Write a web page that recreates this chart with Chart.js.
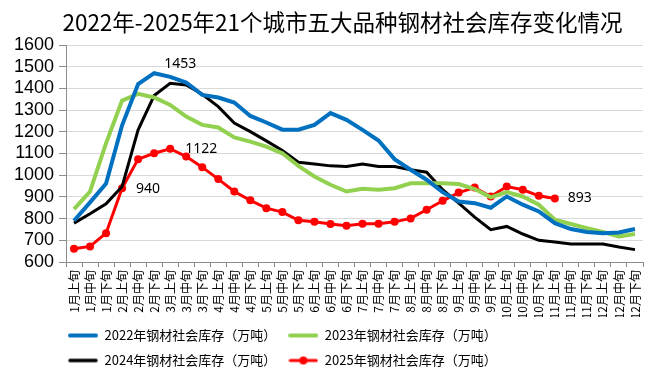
<!DOCTYPE html>
<html>
<head>
<meta charset="utf-8">
<script src="https://cdn.jsdelivr.net/npm/chart.js@4.4.1/dist/chart.umd.min.js"></script>
<style>
  html, body { margin: 0; padding: 0; background: #fff; }
  #wrap { width: 665px; height: 385px; }
</style>
</head>
<body>
<div id="wrap"><canvas id="myChart"></canvas></div>
<script>
'use strict';

// 旬度标签
const periods = [
  '1月上旬', '1月中旬', '1月下旬', '2月上旬', '2月中旬', '2月下旬',
  '3月上旬', '3月中旬', '3月下旬', '4月上旬', '4月中旬', '4月下旬',
  '5月上旬', '5月中旬', '5月下旬', '6月上旬', '6月中旬', '6月下旬',
  '7月上旬', '7月中旬', '7月下旬', '8月上旬', '8月中旬', '8月下旬',
  '9月上旬', '9月中旬', '9月下旬', '10月上旬', '10月中旬', '10月下旬',
  '11月上旬', '11月中旬', '11月下旬', '12月上旬', '12月中旬', '12月下旬'
];

// 万吨
const stock2022 = [790, 875, 962, 1230, 1420, 1470, 1453, 1427, 1370, 1358, 1335, 1273,
  1243, 1210, 1210, 1232, 1286, 1255, 1209, 1160, 1074, 1025, 979, 922,
  879, 871, 850, 902, 864, 833, 779, 752, 738, 733, 736, 752];
const stock2023 = [844, 925, 1148, 1344, 1375, 1358, 1324, 1270, 1232, 1220, 1174, 1155,
  1132, 1101, 1043, 994, 956, 925, 937, 933, 940, 963, 963, 963,
  959, 936, 898, 922, 902, 864, 795, 775, 756, 738, 718, 729];
const stock2024 = [779, 822, 868, 948, 1209, 1367, 1424, 1416, 1373, 1316, 1240, 1201,
  1158, 1114, 1060, 1052, 1043, 1040, 1051, 1040, 1040, 1025, 1014, 933,
  871, 807, 749, 764, 729, 700, 692, 683, 683, 683, 669, 657];
const stock2025 = [661, 672, 733, 940, 1074, 1101, 1122, 1086, 1037, 982, 925, 884,
  848, 830, 792, 785, 775, 767, 776, 776, 785, 801, 841, 882,
  920, 943, 902, 948, 933, 905, 893];

const seriesNames = ['2022年钢材社会库存（万吨）', '2023年钢材社会库存（万吨）',
  '2024年钢材社会库存（万吨）', '2025年钢材社会库存（万吨）'];
const yMin = 600, yMax = 1600, yStep = 100;

const ctx = document.getElementById('myChart');

// legend sample: short thick line, red one gets a dot
function legendSample(color, width, dot) {
  const c = document.createElement('canvas');
  c.width = 30;
  c.height = 10;
  const g = c.getContext('2d');
  g.strokeStyle = color;
  g.lineWidth = width;
  g.lineCap = 'round';
  g.beginPath();
  g.moveTo(2, 5);
  g.lineTo(28, 5);
  g.stroke();
  if (dot) {
    g.fillStyle = color;
    g.beginPath();
    g.arc(15, 5, 4, 0, Math.PI * 2);
    g.fill();
  }
  return c;
}
const samples = [
  legendSample('#0070C0', 4, false),
  legendSample('#92D050', 4, false),
  legendSample('#000000', 3.5, false),
  legendSample('#FF0000', 3, true)
];

// value callouts next to a few points
const callouts = {
  id: 'callouts',
  afterDatasetsDraw(chart, args, opts) {
    const c = chart.ctx;
    c.save();
    c.font = '14px "Noto Sans", sans-serif';
    c.fillStyle = '#000';
    c.textAlign = 'left';
    c.textBaseline = 'middle';
    opts.items.forEach(it => {
      const pt = chart.getDatasetMeta(it.ds).data[it.idx];
      const val = chart.data.datasets[it.ds].data[it.idx];
      c.fillText(String(val), pt.x + it.dx, pt.y + it.dy);
    });
    c.restore();
  }
};

// nudge title / legend horizontally like the original layout
const nudge = {
  id: 'nudge',
  beforeDraw(chart) {
    if (chart.titleBlock) chart.titleBlock.left = 20;
    if (chart.legend) chart.legend.left = 56;
  }
};

const config = {
  type: 'line',
  data: {
    labels: periods,
    datasets: [
      { label: seriesNames[0], data: stock2022, borderColor: '#0070C0', backgroundColor: '#0070C0',
        borderWidth: 4, pointRadius: 0, tension: 0 },
      { label: seriesNames[1], data: stock2023, borderColor: '#92D050', backgroundColor: '#92D050',
        borderWidth: 4, pointRadius: 0, tension: 0 },
      { label: seriesNames[2], data: stock2024, borderColor: '#000000', backgroundColor: '#000000',
        borderWidth: 3, pointRadius: 0, tension: 0 },
      { label: seriesNames[3], data: stock2025, borderColor: '#FF0000', backgroundColor: '#FF0000',
        borderWidth: 3, pointRadius: 4, pointBorderWidth: 0, pointBackgroundColor: '#FF0000', tension: 0 }
    ]
  },
  options: {
    responsive: true,
    maintainAspectRatio: false,
    animation: false,
    layout: { padding: { left: 0, right: 0, top: 0, bottom: 8 } },
    scales: {
      x: {
        offset: true,
        afterFit: (s) => { s.height = 55; s.paddingRight = 22; },
        grid: { display: true, offset: true, drawOnChartArea: false, drawTicks: true,
          tickLength: 5, color: '#8c8c8c' },
        border: { display: true, color: '#8c8c8c', width: 1 },
        ticks: {
          autoSkip: false, minRotation: 90, maxRotation: 90, padding: 3,
          color: '#000', font: { family: '"Noto Sans CJK SC", sans-serif', size: 12 }
        }
      },
      y: {
        min: yMin,
        max: yMax,
        afterFit: (s) => { s.width = 66; },
        grid: { color: '#d9d9d9', lineWidth: 1, tickLength: 7, tickColor: '#8c8c8c' },
        border: { display: true, color: '#8c8c8c', width: 1 },
        ticks: {
          stepSize: yStep, autoSkip: false, padding: 5, color: '#000',
          callback: (v) => String(v),
          font: { family: '"Liberation Sans", Arial, sans-serif', size: 18, lineHeight: 1 }
        }
      }
    },
    plugins: {
      title: {
        display: true,
        text: '2022年-2025年21个城市五大品种钢材社会库存变化情况',
        color: '#000',
        font: { family: '"Noto Sans CJK SC", sans-serif', size: 22.5, weight: 'normal', lineHeight: 1.2 },
        padding: { top: 9, bottom: 9 }
      },
      legend: {
        position: 'bottom',
        align: 'start',
        labels: {
          usePointStyle: true,
          pointStyleWidth: 30,
          padding: 12,
          color: '#000',
          font: { family: '"Noto Sans CJK SC", sans-serif', size: 13 },
          generateLabels(chart) {
            const items = Chart.defaults.plugins.legend.labels.generateLabels(chart);
            items.forEach((it, i) => { it.pointStyle = samples[i]; it.rotation = 0; });
            return items;
          }
        }
      },
      tooltip: { enabled: false },
      callouts: {
        items: [
          { ds: 0, idx: 6, dx: -6, dy: -13 },
          { ds: 3, idx: 6, dx: 15, dy: 0 },
          { ds: 3, idx: 3, dx: 14, dy: 1 },
          { ds: 3, idx: 30, dx: 13, dy: 0 }
        ]
      }
    }
  },
  plugins: [callouts, nudge]
};

const myChart = new Chart(ctx, config);
</script>
</body>
</html>
